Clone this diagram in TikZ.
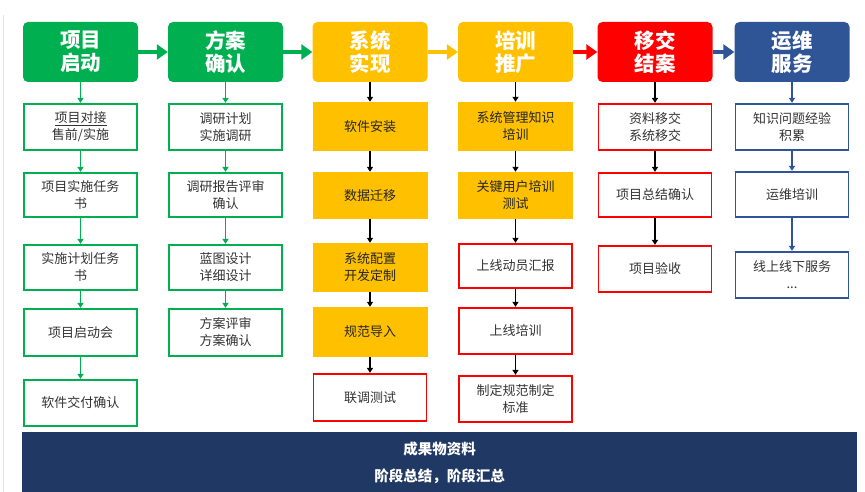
\documentclass[tikz,border=0pt]{standalone}
\usepackage{fontspec}
\setmainfont{Noto Sans CJK SC}
\usepackage{tikz}
\usetikzlibrary{arrows.meta}
\definecolor{hdGreen}{RGB}{0,176,80}
\definecolor{hdYellow}{RGB}{255,192,0}
\definecolor{hdRed}{RGB}{255,0,0}
\definecolor{hdBlue}{RGB}{47,85,151}
\definecolor{barNavy}{RGB}{32,56,100}
\definecolor{edgeGray}{RGB}{222,228,238}

\begin{document}
\begin{tikzpicture}[x=1pt, y=-1pt,
    hdbox/.style={rounded corners=5pt, minimum width=115pt, minimum height=60pt, inner sep=0pt,
      text=white, align=center, font=\fontsize{20.5}{23}\selectfont\bfseries},
    subbox/.style={draw=#1, line width=1.8pt, fill=white, minimum width=113pt, minimum height=46pt,
      inner sep=0pt, align=center, text=black!80, font=\fontsize{13}{17}\selectfont},
    fillbox/.style={fill=hdYellow, minimum width=115pt, minimum height=48pt,
      inner sep=0pt, align=center, text=black!85, font=\fontsize{13}{17}\selectfont},
    hdarrow/.style={draw=#1, line width=4pt, -{Triangle[length=11pt, width=15pt]}},
    vtarrow/.style={draw=#1, line width=1.6pt, -{Triangle[length=5pt, width=6pt]}}]
  \useasboundingbox (0,0) rectangle (865,492);
  \draw[edgeGray, line width=1pt] (3,15) -- (3,492);               % faint left edge

  % header row
  \node[hdbox, fill=hdGreen]  (h1) at (80.5,52)  {项目\\启动};
  \node[hdbox, fill=hdGreen]  (h2) at (225.5,52) {方案\\确认};
  \node[hdbox, fill=hdYellow] (h3) at (370,52)   {系统\\实现};
  \node[hdbox, fill=hdYellow] (h4) at (515.5,52) {培训\\推广};
  \node[hdbox, fill=hdRed]    (h5) at (655,52)   {移交\\结案};
  \node[hdbox, fill=hdBlue]   (h6) at (792,52)   {运维\\服务};
  \draw[hdarrow=hdGreen]  (h1.east) -- (h2.west);
  \draw[hdarrow=hdGreen]  (h2.east) -- (h3.west);
  \draw[hdarrow=hdYellow] (h3.east) -- (h4.west);
  \draw[hdarrow=hdRed]    (h4.east) -- (h5.west);
  \draw[hdarrow=hdBlue]   (h5.east) -- (h6.west);

  % column 1
  \node[subbox=hdGreen, minimum height=46.5pt] (a1) at (80.5,127)   {项目对接\\售前/实施};
  \draw[black!80, line width=1pt] (54.5,125.2) -- (106.5,125.2);   % underline
  \node[subbox=hdGreen, minimum height=44.5pt] (a2) at (80.5,195)   {项目实施任务\\书};
  \node[subbox=hdGreen, minimum height=45.5pt] (a3) at (80.5,267.5) {实施计划任务\\书};
  \node[subbox=hdGreen, minimum height=47.5pt] (a4) at (80.5,332.5) {项目启动会};
  \node[subbox=hdGreen, minimum height=46.5pt] (a5) at (80.5,403)   {软件交付确认};
  \draw[vtarrow=hdGreen] (h1) -- (a1);
  \draw[vtarrow=hdGreen] (a1) -- (a2);
  \draw[vtarrow=hdGreen] (a2) -- (a3);
  \draw[vtarrow=hdGreen] (a3) -- (a4);
  \draw[vtarrow=hdGreen] (a4) -- (a5);

  % column 2
  \node[subbox=hdGreen, minimum height=46.5pt] (b1) at (225.5,127)   {调研计划\\实施调研};
  \node[subbox=hdGreen, minimum height=44.5pt] (b2) at (225.5,195)   {调研报告评审\\确认};
  \node[subbox=hdGreen, minimum height=45.5pt] (b3) at (225.5,267.5) {蓝图设计\\详细设计};
  \node[subbox=hdGreen, minimum height=47.5pt] (b4) at (225.5,332.5) {方案评审\\方案确认};
  \draw[vtarrow=hdGreen] (h2) -- (b1);
  \draw[vtarrow=hdGreen] (b1) -- (b2);
  \draw[vtarrow=hdGreen] (b2) -- (b3);
  \draw[vtarrow=hdGreen] (b3) -- (b4);

  % column 3
  \node[fillbox, minimum height=49pt] (c1) at (370,126.5) {软件安装};
  \node[fillbox, minimum height=47pt] (c2) at (370,195.5) {数据迁移};
  \node[fillbox, minimum height=49pt] (c3) at (370,267.5) {系统配置\\开发定制};
  \node[fillbox, minimum height=50pt] (c4) at (370,332)   {规范导入};
  \node[subbox=hdRed, minimum height=47.5pt] (c5) at (370,397.5) {联调测试};
  \draw[vtarrow=black] (h3) -- (c1);
  \draw[vtarrow=black] (c1) -- (c2);
  \draw[vtarrow=black] (c2) -- (c3);
  \draw[vtarrow=black] (c3) -- (c4);
  \draw[vtarrow=black] (c4) -- (c5);

  % column 4
  \node[fillbox, minimum height=49pt] (d1) at (515.5,126.5) {系统管理知识\\培训};
  \node[fillbox, minimum height=47pt] (d2) at (515.5,195.5) {关键用户培训\\测试};
  \node[subbox=hdRed, minimum height=44.5pt] (d3) at (515.5,266) {上线动员汇报};
  \node[subbox=hdRed, minimum height=46.5pt] (d4) at (515.5,331) {上线培训};
  \node[subbox=hdRed, minimum height=46.5pt] (d5) at (515.5,399) {制定规范制定\\标准};
  \draw[vtarrow=black] (h4) -- (d1);
  \draw[vtarrow=black] (d1) -- (d2);
  \draw[vtarrow=black] (d2) -- (d3);
  \draw[vtarrow=black] (d3) -- (d4);
  \draw[vtarrow=black] (d4) -- (d5);

  % column 5
  \node[subbox=hdRed, minimum height=46.5pt] (e1) at (655,127) {资料移交\\系统移交};
  \node[subbox=hdRed, minimum height=44.5pt] (e2) at (655,195) {项目总结确认};
  \node[subbox=hdRed, minimum height=46.5pt] (e3) at (655,269) {项目验收};
  \draw[vtarrow=black] (h5) -- (e1);
  \draw[vtarrow=black] (e1) -- (e2);
  \draw[vtarrow=black] (e2) -- (e3);

  % column 6
  \node[subbox=hdBlue, minimum height=46.5pt] (f1) at (792,127) {知识问题经验\\积累};
  \node[subbox=hdBlue, minimum height=45.5pt] (f2) at (792,194.5) {运维培训};
  \node[subbox=hdBlue, minimum height=46.5pt] (f3) at (792,275) {线上线下服务\\...};
  \draw[vtarrow=hdBlue] (h6) -- (f1);
  \draw[vtarrow=hdBlue] (f1) -- (f2);
  \draw[vtarrow=hdBlue] (f2) -- (f3);

  % outcome bar
  \node[fill=barNavy, minimum width=835pt, minimum height=62pt, inner sep=0pt,
    anchor=north west, text=white, align=center,
    font=\fontsize{14.5}{27}\selectfont\bfseries] (bar) at (22,432) {成果物资料\\阶段总结，阶段汇总};
\end{tikzpicture}
\end{document}
